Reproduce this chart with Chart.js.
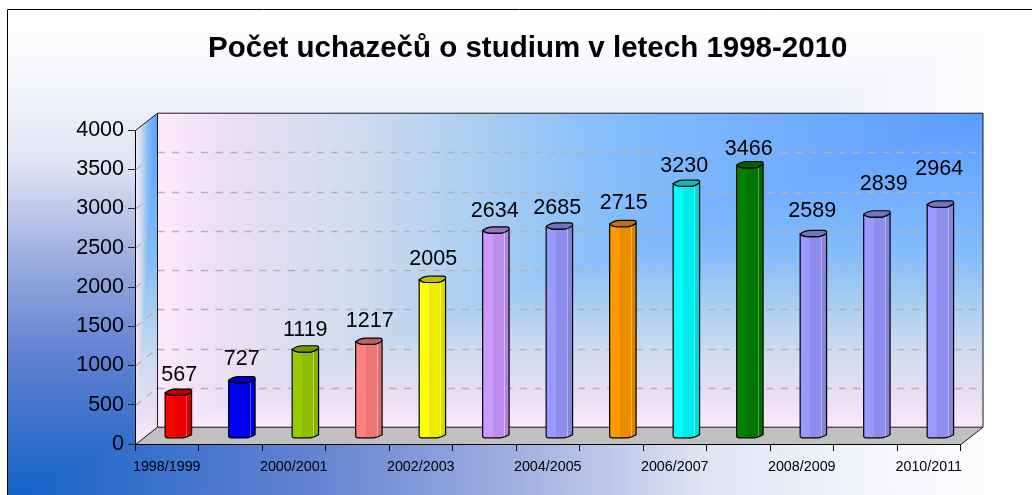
<!DOCTYPE html>
<html>
<head>
<meta charset="utf-8">
<style>
html,body{margin:0;padding:0;background:#fff;}
#wrap{position:relative;width:1032px;height:495px;}
</style>
<script src="https://cdn.jsdelivr.net/npm/chart.js@4"></script>
</head>
<body>
<div id="wrap"><canvas id="c" width="1032" height="495"></canvas></div>
<script>
const chartTitle = "Počet uchazečů o studium v letech 1998-2010";
const categories = ["1998/1999","1999/2000","2000/2001","2001/2002","2002/2003","2003/2004","2004/2005","2005/2006","2006/2007","2007/2008","2008/2009","2009/2010","2010/2011"];
const applicants = [567,727,1119,1217,2005,2634,2685,2715,3230,3466,2589,2839,2964];
const barColors = ["#ff0000","#0000ff","#99cc00","#ff8080","#ffff00","#cc99ff","#9999ff","#ff9900","#00ffff","#008000","#9999ff","#9999ff","#9999ff"];
const labelShiftX = [1,0,0,1,1,-1,-2,1,-2,-1,-1,7,-1];
const labelShiftY = [1,-2,0,-2,-2,0,1,-2,1,3,-4,-11,-17];

const DEPTH_X = 22, DEPTH_Y = 17.3;
const pageStops = [[0,"#1262c8"],[0.3,"#6583d2"],[0.5,"#a0b1e1"],[0.68,"#dfe3f3"],[0.85,"#f5f7fc"],[1,"#ffffff"]];
const wallStops = [[0,"#5b9cff"],[0.45,"#84bdfb"],[0.6,"#a8cdf1"],[0.76,"#cfdcee"],[0.92,"#ecdff4"],[1,"#fce9fb"]];

function linear(ctx,x0,y0,x1,y1,stops){
  const g = ctx.createLinearGradient(x0,y0,x1,y1);
  stops.forEach(s=>g.addColorStop(s[0],s[1]));
  return g;
}
function polyPath(ctx,pts){
  ctx.beginPath();
  pts.forEach((p,i)=> i? ctx.lineTo(p[0],p[1]) : ctx.moveTo(p[0],p[1]));
  ctx.closePath();
}
function cornerFill(ctx,cx,cy,fx,fy,stops){
  const l=Math.min(cx,fx), t=Math.min(cy,fy), w=Math.abs(fx-cx), h=Math.abs(fy-cy);
  ctx.fillStyle = linear(ctx,cx,0,fx,0,stops);
  ctx.fillRect(l,t,w,h);
  ctx.save();
  polyPath(ctx,[[cx,cy],[cx,fy],[fx,fy]]);
  ctx.clip();
  ctx.fillStyle = linear(ctx,0,cy,0,fy,stops);
  ctx.fillRect(l,t,w,h);
  ctx.restore();
}
function shade(hex,f){
  const n=parseInt(hex.slice(1),16);
  const c=[n>>16&255,n>>8&255,n&255].map(v=>Math.round(v*f));
  return "rgb("+c.join(",")+")";
}
function lighten(hex,f){
  const n=parseInt(hex.slice(1),16);
  const c=[n>>16&255,n>>8&255,n&255].map(v=>Math.round(v+(255-v)*f));
  return "rgb("+c.join(",")+")";
}

Chart.BarElement.prototype.draw = function(ctx){
  const col = this.options.backgroundColor;
  const w = this.width;
  const left = this.x - w*0.06;
  const L = this.y - 6.8;
  const B = this.base - 7.3;
  const px = f => left + w*f;
  ctx.save();
  ctx.lineWidth = 1.2;
  ctx.strokeStyle = "#000";
  ctx.lineJoin = "round";
  ctx.beginPath();
  ctx.moveTo(px(0),L);
  ctx.quadraticCurveTo(px(0.1),L+2.4,px(0.25),L+2.7);
  ctx.lineTo(px(0.7),L+2.7);
  ctx.quadraticCurveTo(px(0.85),L+2.2,px(1),L-0.8);
  ctx.lineTo(px(1),B-1.5);
  ctx.quadraticCurveTo(px(0.85),B+0.8,px(0.68),B+1.7);
  ctx.lineTo(px(0.1),B+1.7);
  ctx.quadraticCurveTo(px(0),B+1.4,px(0),B);
  ctx.closePath();
  const g = ctx.createLinearGradient(left,0,left+w,0);
  const dark = shade(col,0.92), darker = shade(col,0.86), glow = lighten(col,0.3);
  [[0,col],[0.38,col],[0.38,dark],[0.8,dark],[0.8,glow],[0.83,glow],[0.83,darker],[1,darker]]
    .forEach(s=>g.addColorStop(s[0],s[1]));
  ctx.fillStyle = g;
  ctx.fill();
  ctx.stroke();
  ctx.beginPath();
  ctx.moveTo(px(0),L);
  ctx.quadraticCurveTo(px(0.1),L+2.4,px(0.25),L+2.7);
  ctx.lineTo(px(0.7),L+2.7);
  ctx.quadraticCurveTo(px(0.85),L+2.2,px(1),L-0.8);
  ctx.lineTo(px(1),L-2.5);
  ctx.quadraticCurveTo(px(0.98),L-3.6,px(0.9),L-3.6);
  ctx.lineTo(px(0.4),L-3.6);
  ctx.quadraticCurveTo(px(0.15),L-3.3,px(0),L);
  ctx.closePath();
  ctx.fillStyle = shade(col,0.75);
  ctx.fill();
  ctx.stroke();
  ctx.restore();
};

const scenePlugin = {
  id:"scene",
  afterLayout(chart){
    chart.titleBlock.left += 47.5;
    chart.titleBlock.right += 47.5;
  },
  beforeDraw(chart){
    const ctx = chart.ctx, a = chart.chartArea, y = chart.scales.y;
    const W = chart.width, H = chart.height;
    const fl=a.left+0.5, fr=a.right+0.5, ft=y.getPixelForValue(4000)+0.5, fb=y.getPixelForValue(0)+0.5;
    const bl=fl+DEPTH_X, br=fr+DEPTH_X, bt=ft-DEPTH_Y, bb=fb-DEPTH_Y;
    ctx.save();
    ctx.fillStyle="#fff"; ctx.fillRect(0,0,W,H);
    ctx.save();
    ctx.beginPath(); ctx.rect(7,9,W,H); ctx.clip();
    cornerFill(ctx,7,H,W,9,pageStops);
    ctx.restore();
    ctx.strokeStyle="#000"; ctx.lineWidth=1;
    ctx.beginPath(); ctx.moveTo(7.5,H); ctx.lineTo(7.5,9.5); ctx.lineTo(W,9.5); ctx.stroke();
    ctx.save();
    polyPath(ctx,[[fl,ft],[bl,bt],[bl,bb],[fl,fb]]); ctx.clip();
    cornerFill(ctx,bl,bt,fl,fb,wallStops);
    ctx.restore();
    cornerFill(ctx,br,bt,bl,bb,wallStops);
    ctx.strokeStyle="#b2b2b2"; ctx.lineWidth=1.3; ctx.setLineDash([7,7.5]);
    y.ticks.forEach(t=>{
      if(t.value===0||t.value===4000) return;
      const py=y.getPixelForValue(t.value)+0.5;
      ctx.beginPath(); ctx.moveTo(fl,py); ctx.lineTo(bl,py-DEPTH_Y); ctx.stroke();
      const by=Math.round(py-DEPTH_Y)+0.5;
      ctx.beginPath(); ctx.moveTo(bl,by); ctx.lineTo(br,by); ctx.stroke();
    });
    ctx.setLineDash([]);
    polyPath(ctx,[[fl,fb],[bl,bb],[br,bb],[fr,fb]]);
    ctx.fillStyle="#c0c0c0"; ctx.fill();
    ctx.strokeStyle="#1a1a1a"; ctx.lineWidth=1;
    polyPath(ctx,[[fl,fb],[fl,ft],[bl,bt],[br,bt],[br,bb],[fr,fb]]); ctx.stroke();
    ctx.beginPath(); ctx.moveTo(fl,fb); ctx.lineTo(bl,bb); ctx.lineTo(bl,bt); ctx.stroke();
    ctx.beginPath(); ctx.moveTo(bl,bb); ctx.lineTo(br,bb); ctx.stroke();
    ctx.restore();
  },
  afterDatasetsDraw(chart){
    const ctx = chart.ctx;
    const meta = chart.getDatasetMeta(0);
    ctx.save();
    ctx.fillStyle="#000";
    ctx.font='21.5px "Liberation Sans", Arial, sans-serif';
    ctx.textAlign="center";
    ctx.textBaseline="alphabetic";
    meta.data.forEach((el,i)=>{
      ctx.fillText(String(applicants[i]), el.x+11.5+labelShiftX[i], el.y-6.3-13.5+labelShiftY[i]);
    });
    ctx.restore();
  }
};

new Chart(document.getElementById("c"),{
  type:"bar",
  data:{labels:categories,datasets:[{
    label:"Počet uchazečů",
    data:applicants,
    backgroundColor:barColors,
    barPercentage:0.416,
    categoryPercentage:1,
    clip:false
  }]},
  plugins:[scenePlugin],
  options:{
    responsive:false,
    animation:false,
    layout:{padding:{left:0,right:71.5,top:0,bottom:0}},
    plugins:{
      legend:{display:false},
      tooltip:{enabled:false},
      title:{
        display:true,
        text:chartTitle,
        color:"#000",
        font:{family:'"Liberation Sans", Arial, sans-serif',size:29.5,weight:"bold",lineHeight:1.2},
        padding:{top:31.3,bottom:63.3}
      }
    },
    scales:{
      x:{
        afterFit(s){s.height=51;},
        offset:true,
        border:{color:"#000",width:1},
        grid:{offset:true,drawOnChartArea:false,drawTicks:true,tickLength:7,color:"#000"},
        ticks:{
          autoSkip:false,maxRotation:0,minRotation:0,padding:7,color:"#000",
          font:{family:'"Liberation Sans", Arial, sans-serif',size:14.3},
          callback(v,i){return i%2===0?this.getLabelForValue(v):"";}
        }
      },
      y:{
        afterFit(s){s.width=135;},
        min:0,max:4000,
        border:{color:"#000",width:1},
        grid:{drawOnChartArea:false,drawTicks:true,tickLength:7,color:"#222"},
        ticks:{
          stepSize:500,padding:4,color:"#000",
          font:{family:'"Liberation Sans", Arial, sans-serif',size:21.5},
          callback(v){return String(v);}
        }
      }
    }
  }
});
</script>
</body>
</html>
